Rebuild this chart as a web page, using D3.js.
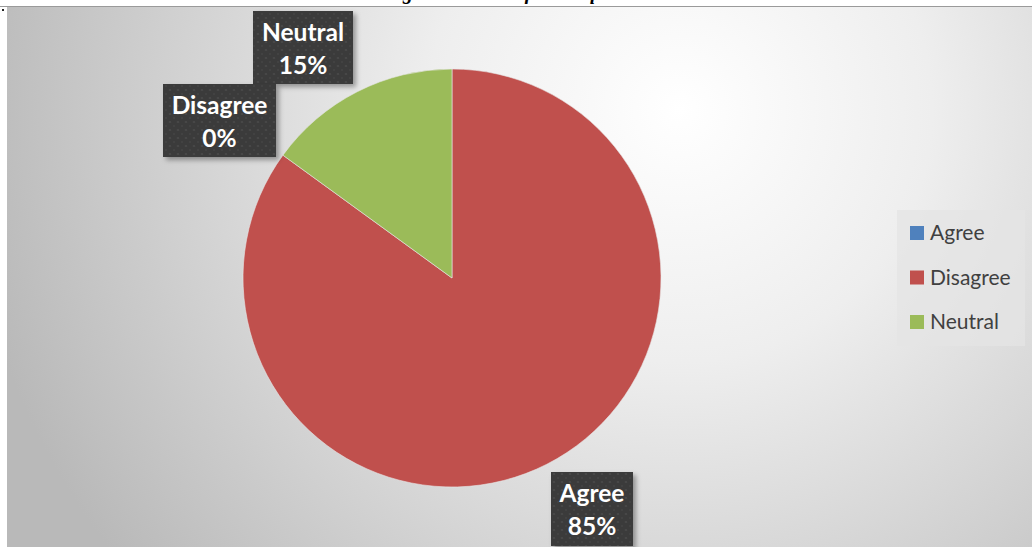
<!DOCTYPE html>
<html>
<head>
<meta charset="utf-8">
<script src="https://cdn.jsdelivr.net/npm/d3@7"></script>
<style>
  html, body { margin: 0; padding: 0; background: #ffffff; overflow: hidden; }
  svg { display: block; }
</style>
</head>
<body>
<svg id="chart" width="1032" height="547"></svg>
<script>
// Survey responses for the question
const categories = ["Agree", "Disagree", "Neutral"];
const shares = [85, 0, 15];
const sliceColors = ["#c0504d", "#4f81bd", "#9bbb59"];
const legendColors = ["#4f81bd", "#c0504d", "#9bbb59"];
const titleText = "Figure 3: Result for 4th question";

const svg = d3.select("#chart");
const W = 1032, H = 547;
const defs = svg.append("defs");

// Background: soft radial light in upper right fading to grey
const bg = defs.append("radialGradient").attr("id", "bgGrad")
  .attr("gradientUnits", "userSpaceOnUse")
  .attr("cx", 680).attr("cy", 110).attr("r", 720);
bg.append("stop").attr("offset", "0%").attr("stop-color", "#ffffff");
bg.append("stop").attr("offset", "35%").attr("stop-color", "#eeeeee");
bg.append("stop").attr("offset", "100%").attr("stop-color", "#b9b9b9");

// Dotted texture for the data-label boxes
const pat = defs.append("pattern").attr("id", "dots")
  .attr("width", 8).attr("height", 8).attr("patternUnits", "userSpaceOnUse");
pat.append("rect").attr("width", 8).attr("height", 8).attr("fill", "#3b3b3b");
pat.append("circle").attr("cx", 2).attr("cy", 2).attr("r", 1.1).attr("fill", "#4a4a4a");
pat.append("circle").attr("cx", 6).attr("cy", 6).attr("r", 1.1).attr("fill", "#454545");

const shadow = defs.append("filter").attr("id", "shadow")
  .attr("x", "-20%").attr("y", "-20%").attr("width", "150%").attr("height", "150%");
shadow.append("feDropShadow").attr("dx", 3).attr("dy", 3).attr("stdDeviation", 2.5)
  .attr("flood-color", "#000").attr("flood-opacity", 0.35);

// Caption sits above the frame; only its lowest strokes fall inside the page
svg.append("text")
  .attr("x", 520).attr("y", -1)
  .attr("text-anchor", "middle")
  .attr("font-family", "Liberation Serif, serif")
  .attr("font-weight", "bold").attr("font-style", "italic")
  .attr("font-size", 20).attr("fill", "#000")
  .text(titleText);

// Chart area
const frame = { x: 7, y: 7, w: 1025, h: 540 };
svg.append("rect")
  .attr("x", frame.x).attr("y", frame.y).attr("width", frame.w).attr("height", frame.h)
  .attr("fill", "url(#bgGrad)");
svg.append("line")
  .attr("x1", 0).attr("x2", W).attr("y1", 6.5).attr("y2", 6.5)
  .attr("stroke", "#9a9a9a").attr("stroke-width", 1);
svg.append("rect").attr("x", 2).attr("y", 9).attr("width", 2).attr("height", 2).attr("fill", "#222");

// Pie
const cx = 452, cy = 278, radius = 209;
const data = categories.map((c, i) => ({ name: c, value: shares[i], color: sliceColors[i] }));
const pie = d3.pie().value(d => d.value).sort(null);
const arc = d3.arc().innerRadius(0).outerRadius(radius);
const arcs = pie(data);

const g = svg.append("g").attr("transform", `translate(${cx},${cy})`);
g.selectAll("path").data(arcs).join("path")
  .attr("d", arc)
  .attr("fill", d => d.data.color)
  .attr("stroke", d => d.data.value > 0 ? "#e8e8e8" : "none")
  .attr("stroke-width", 0.6);

// Data labels: dark callout boxes with name and percent
const labelBoxes = [
  { x: 551, y: 472, w: 82, h: 74 },
  { x: 163, y: 84, w: 113, h: 73 },
  { x: 253, y: 11, w: 100, h: 73 }
];
const labelOrder = [2, 1, 0];
const lg = svg.append("g");
labelOrder.forEach(i => {
  const b = labelBoxes[i];
  const grp = lg.append("g");
  grp.append("rect")
    .attr("x", b.x).attr("y", b.y).attr("width", b.w).attr("height", b.h)
    .attr("fill", "url(#dots)").attr("filter", "url(#shadow)");
  const tx = b.x + b.w / 2;
  grp.append("text")
    .attr("x", tx).attr("y", b.y + 30)
    .attr("text-anchor", "middle")
    .attr("font-family", "Lato, 'Open Sans', sans-serif")
    .attr("font-weight", "bold").attr("font-size", 24.5).attr("fill", "#ffffff")
    .text(categories[i]);
  grp.append("text")
    .attr("x", tx).attr("y", b.y + 63)
    .attr("text-anchor", "middle")
    .attr("font-family", "Lato, 'Open Sans', sans-serif")
    .attr("font-weight", "bold").attr("font-size", 24.5).attr("fill", "#ffffff")
    .text(d3.format(".0%")(shares[i] / 100));
});

// Legend
const legend = svg.append("g");
legend.append("rect")
  .attr("x", 897).attr("y", 210).attr("width", 128).attr("height", 136)
  .attr("fill", "#e4e4e4").attr("fill-opacity", 0.75);
const ly = d3.scalePoint().domain(categories).range([233, 322]);
categories.forEach((c, i) => {
  legend.append("rect")
    .attr("x", 910).attr("y", ly(c) - 7).attr("width", 14).attr("height", 14)
    .attr("fill", legendColors[i]);
  legend.append("text")
    .attr("x", 930).attr("y", ly(c) + 7)
    .attr("font-family", "Lato, 'Open Sans', sans-serif")
    .attr("font-size", 21).attr("fill", "#404040")
    .text(c);
});
</script>
</body>
</html>
